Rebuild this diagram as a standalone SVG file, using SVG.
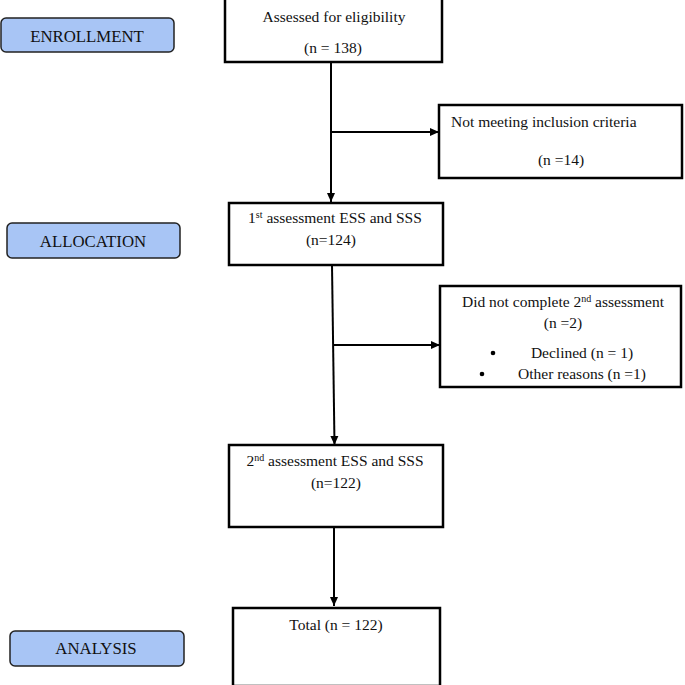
<svg xmlns="http://www.w3.org/2000/svg" width="685" height="685" viewBox="0 0 685 685">
<defs>
<marker id="ah" markerWidth="10" markerHeight="10" refX="9" refY="5" orient="auto" markerUnits="userSpaceOnUse">
<path d="M0,1 L9,5 L0,9 Z" fill="#000"/>
</marker>
<style>
.box{fill:#fff;stroke:#000;stroke-width:2.5}
.lab{fill:#a8c5f5;stroke:#222;stroke-width:1.5}
.t{font-family:"Liberation Serif","Times New Roman",serif;font-size:15.5px;fill:#111}
.lt{font-family:"Liberation Serif","Times New Roman",serif;font-size:16.8px;fill:#111;text-anchor:middle}
.c{text-anchor:middle}
.ln{stroke:#000;stroke-width:2;fill:none}
</style>
</defs>
<rect width="685" height="685" fill="#fff"/>
<g id="enrollment"><rect class="lab" x="1" y="18" width="173" height="34" rx="5"/><text class="lt" x="87" y="42">ENROLLMENT</text></g>
<g id="allocation"><rect class="lab" x="7" y="223" width="173" height="35" rx="5"/><text class="lt" x="93" y="247">ALLOCATION</text></g>
<g id="analysis"><rect class="lab" x="10" y="631" width="174" height="35" rx="5"/><text class="lt" x="96" y="654">ANALYSIS</text></g>
<g id="connectors">
<line class="ln" x1="331" y1="62" x2="331" y2="202" marker-end="url(#ah)"/>
<line class="ln" x1="331" y1="132" x2="439" y2="132" marker-end="url(#ah)"/>
<line class="ln" x1="332" y1="265" x2="334.5" y2="445" marker-end="url(#ah)"/>
<line class="ln" x1="333" y1="345" x2="440" y2="345" marker-end="url(#ah)"/>
<line class="ln" x1="334" y1="528" x2="334" y2="606" marker-end="url(#ah)"/>
</g>
<g id="assessed"><rect class="box" x="225" y="-2" width="217" height="64"/><text class="t c" x="334" y="22">Assessed for eligibility</text><text class="t c" x="333" y="53">(n = 138)</text></g>
<g id="notmeeting"><rect class="box" x="439" y="105" width="243" height="73"/><text class="t" x="451" y="127">Not meeting inclusion criteria</text><text class="t c" x="561" y="165">(n =14)</text></g>
<g id="first"><rect class="box" x="229" y="203" width="214" height="62"/><text class="t c" x="335" y="223">1<tspan font-size="10" dy="-5">st</tspan><tspan dy="5"> assessment ESS and SSS</tspan></text><text class="t c" x="331" y="245">(n=124)</text></g>
<g id="notcomplete"><rect class="box" x="440" y="286" width="241" height="101"/><text class="t c" x="563" y="307">Did not complete 2<tspan font-size="10" dy="-5">nd</tspan><tspan dy="5"> assessment</tspan></text><text class="t c" x="563" y="328">(n =2)</text><circle cx="493" cy="353" r="2.3" fill="#000"/><text class="t c" x="582" y="358">Declined (n = 1)</text><circle cx="482" cy="374" r="2.3" fill="#000"/><text class="t c" x="582" y="379">Other reasons (n =1)</text></g>
<g id="second"><rect class="box" x="229" y="445" width="214" height="82"/><text class="t c" x="335" y="466">2<tspan font-size="10" dy="-5">nd</tspan><tspan dy="5"> assessment ESS and SSS</tspan></text><text class="t c" x="336" y="488">(n=122)</text></g>
<g id="total"><rect class="box" x="233" y="608" width="207" height="78"/><text class="t c" x="336" y="630">Total (n = 122)</text></g>
</svg>
